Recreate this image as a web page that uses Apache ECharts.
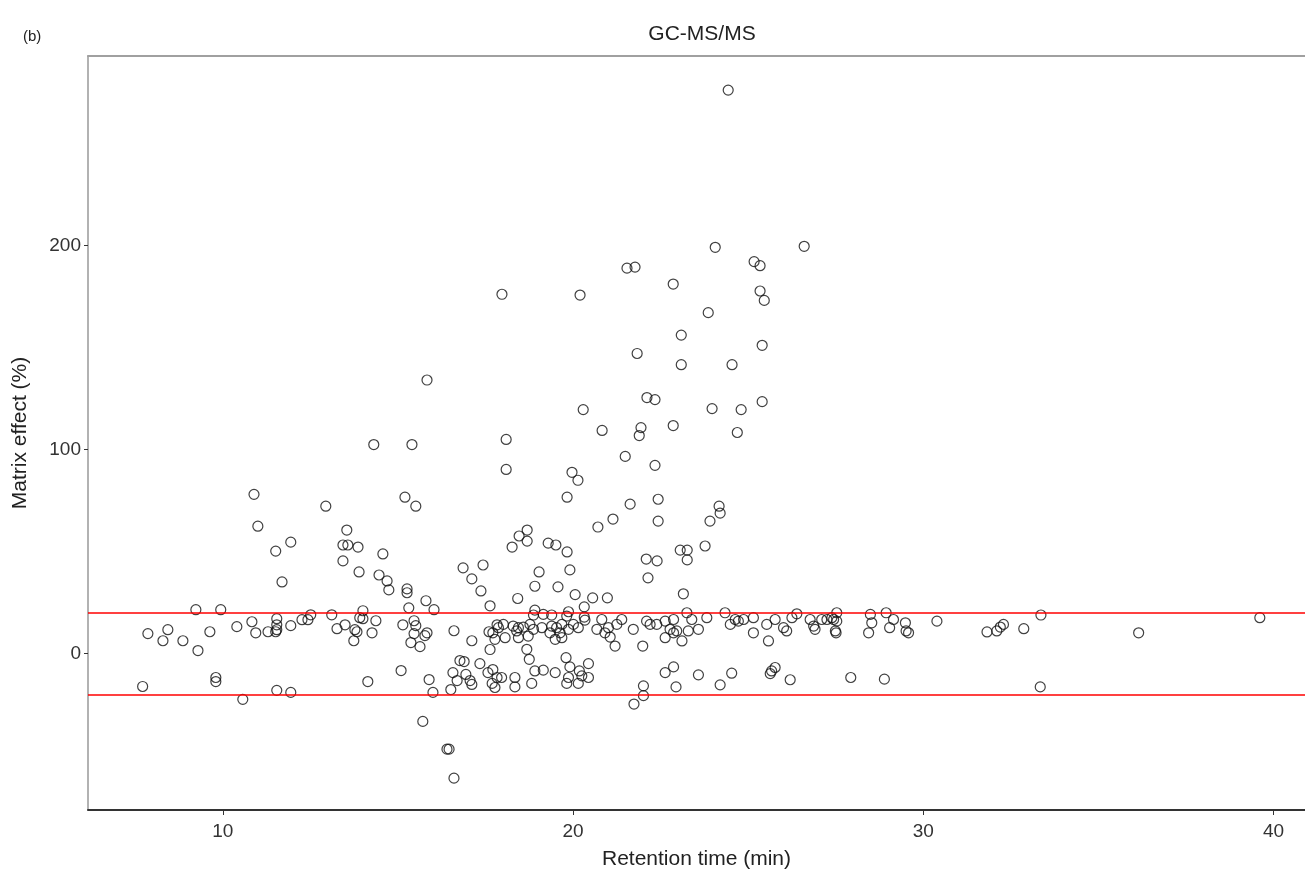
<!DOCTYPE html>
<html>
<head>
<meta charset="utf-8">
<script src="https://cdn.jsdelivr.net/npm/echarts@6/dist/echarts.min.js"></script>
<style>
  html, body { margin: 0; padding: 0; background: #fff; }
  #chart { width: 1305px; height: 875px; }
</style>
</head>
<body>
<div id="chart"></div>
<script>
// retention time (min) and matrix effect (%) for each compound
var retentionTime = [
  24.43, 24.06, 26.6, 21.54, 21.77, 25.17, 25.34, 22.86, 17.97, 20.2,
  25.34, 25.46, 23.86, 23.09, 25.4, 21.83, 23.09, 24.54, 22.11, 22.34,
  20.29, 23.97, 24.8, 25.4, 20.83, 21.94, 21.89, 22.86, 24.69, 18.09,
  21.49, 22.34, 18.09, 19.97, 20.14, 19.83, 21.63, 22.43, 22.43, 24.17,
  24.2, 23.91, 21.14, 20.71, 18.69, 18.46, 18.69, 18.26, 19.29, 19.51,
  19.83, 23.06, 23.26, 23.26, 23.77, 22.09, 22.4, 22.14, 19.03, 19.91,
  17.43, 18.91, 19.57,
  15.83, 14.31, 15.4, 10.89, 12.94, 15.2, 15.51, 11.0, 13.54, 11.94,
  11.51, 13.43, 13.57, 13.86, 14.57, 13.43, 13.89, 14.46, 14.69, 11.69,
  16.86, 17.11,
  14.74, 15.26, 15.26, 15.8, 16.03, 17.37, 17.63, 15.31, 14.0, 13.91,
  14.0, 13.49, 13.77, 13.83, 13.74, 14.37, 14.26, 15.14, 15.46, 15.51,
  15.46, 15.83, 15.77, 15.37, 15.63, 16.6, 17.11, 17.6, 17.71, 17.63,
  17.83, 16.77, 16.89, 16.57, 16.94, 17.06, 17.11, 16.69, 16.51, 17.34,
  17.57, 17.71, 17.83, 17.69, 17.77, 15.09, 15.89, 16.0, 14.14, 15.71,
  16.4, 16.46, 16.6,
  9.23, 9.94, 7.86, 8.43, 8.29, 8.86, 9.29, 9.63, 10.4, 10.83,
  10.94, 11.29, 11.54, 11.54, 11.54, 11.51, 11.94, 12.26, 12.43, 12.51,
  13.11, 13.26, 7.71, 9.8, 9.8, 10.57, 11.54, 11.94,
  18.42, 20.06, 20.56, 20.98, 20.32, 18.91, 18.87, 19.15, 19.39, 19.87,
  19.82, 20.32, 20.34, 18.01, 17.87, 18.29, 18.44, 18.58, 18.39, 18.77,
  18.87, 19.11, 19.39, 19.53, 19.68, 20.01, 20.15, 19.34, 19.63, 19.87,
  17.77, 18.06, 18.44, 18.72, 19.49, 19.68, 18.68, 18.75, 19.8, 19.91,
  18.91, 19.15, 19.49, 20.18, 20.44, 20.25, 20.44, 19.87, 19.82, 20.15,
  18.34, 18.34, 18.82, 17.96, 20.82, 20.68, 20.91, 21.01, 21.06, 21.2,
  21.25, 21.39, 21.72, 21.99, 22.1, 22.01, 22.01, 21.74,
  23.15, 23.25, 22.2, 22.39, 22.87, 23.39, 23.82, 24.34, 24.49, 24.63,
  24.72, 24.87, 25.15, 25.15, 25.53, 25.77, 26.01, 26.1, 25.58, 26.25,
  26.39, 26.77, 26.87, 26.91, 27.1, 27.25, 27.39, 27.53, 27.49, 22.63,
  22.77, 22.87, 22.63, 23.11, 22.96, 23.29, 23.58, 22.63, 22.87, 23.58,
  22.94, 24.2, 24.53, 25.67, 25.77, 25.63, 26.2,
  27.44, 27.53, 27.51, 28.49, 28.53, 28.44, 28.94, 29.15, 29.04, 29.49,
  29.51, 29.58, 30.39, 31.82, 32.1, 32.2, 32.29, 32.87, 33.36, 27.93,
  28.89, 33.34, 36.15, 39.61
];
var matrixEffect = [
  276, 199, 199.5, 188.8, 189.3, 192, 190, 181, 176, 175.6,
  177.6, 173, 167, 156, 151, 147, 141.5, 141.5, 125.4, 124.4,
  119.5, 120, 119.5, 123.4, 109.3, 110.7, 106.8, 111.7, 108.3, 104.9,
  96.6, 92.2, 90.2, 88.8, 84.9, 76.6, 73.2, 75.6, 64.9, 72.2,
  68.8, 64.9, 65.9, 62, 60.5, 57.6, 55.1, 52.2, 54.1, 53.2,
  49.8, 50.7, 50.7, 45.9, 52.7, 46.3, 45.4, 37.1, 40, 41,
  43.4, 33, 32.7,
  134, 102.4, 102.4, 78, 72.2, 76.6, 72.2, 62.4, 60.5, 54.6,
  50.2, 53.2, 53.2, 52.2, 48.8, 45.4, 40, 38.5, 35.6, 35.1,
  42, 36.6,
  31.2, 31.7, 29.8, 25.9, 21.5, 30.7, 23.4, 22.4, 21, 17.6,
  17.1, 14.1, 11.7, 10.7, 6.3, 16.1, 10.2, 14.1, 16.1, 13.7,
  9.8, 10.2, 8.8, 5.4, 3.4, 11.2, 6.3, 10.7, 10.2, 2,
  14.1, -3.4, -3.9, -9.3, -10.2, -13.2, -15.1, -13.2, -17.6, -4.9,
  -9.3, -7.8, -11.7, -14.6, -16.6, -8.3, -12.7, -19, -13.7, -33.2,
  -46.8, -46.8, -61,
  21.5, 21.5, 9.8, 11.7, 6.3, 6.3, 1.5, 10.7, 13.2, 15.6,
  10.2, 10.7, 17.1, 14.1, 11.7, 10.7, 13.7, 16.6, 16.6, 19,
  19, 12.2, -16.1, -11.7, -13.7, -22.4, -18, -19,
  27.0, 28.9, 27.3, 27.3, 22.9, 21.3, 18.9, 19.2, 18.9, 20.5,
  18.4, 17.9, 16.4, 14.3, 12.7, 13.5, 12.7, 13.0, 11.1, 14.3,
  11.9, 12.7, 13.5, 12.7, 14.3, 14.3, 12.7, 10.2, 10.2, 11.9,
  7.0, 7.8, 7.8, 8.6, 7.0, 7.8, 2.1, -2.8, -2.0, -6.5,
  -8.5, -8.1, -9.3, -8.5, -4.9, -10.9, -11.7, -11.7, -14.6, -14.6,
  -11.7, -16.3, -14.6, -11.7, 16.7, 11.9, 10.2, 12.7, 8.1, 3.7,
  14.3, 16.7, 11.9, 3.7, 15.9, -15.8, -20.6, -24.7,
  29.3, 20, 14.3, 14.3, 16.7, 16.7, 17.6, 20, 14.3, 16.7,
  15.9, 16.7, 17.6, 10.2, 14.3, 16.7, 12.7, 11.1, 6.2, 17.6,
  19.5, 16.7, 13.5, 11.9, 16.7, 16.7, 17.6, 20, 11.1, 15.9,
  11.9, 10.2, 7.8, 6.2, 11.1, 11.1, 11.9, -9.3, -6.5, -10.4,
  -16.3, -15.3, -9.6, -8.5, -6.8, -9.8, -12.8,
  16.7, 15.9, 10.2, 19.2, 15.1, 10.2, 20, 16.7, 12.7, 15.1,
  11.1, 10.2, 15.9, 10.6, 11.1, 13.0, 14.3, 12.2, 18.9, -11.7,
  -12.5, -16.3, 10.2, 17.6
];

var xTicks = [10, 20, 30, 40];
var yTicks = [0, 100, 200];
var limitLines = [20, -20];

var points = retentionTime.map(function (t, i) {
    return [t, matrixEffect[i]];
});

var font = 'Liberation Sans, Arial, sans-serif';
var myChart = echarts.init(document.getElementById('chart'));

var option = {
    animation: false,
    title: [{
        text: 'GC-MS/MS',
        left: 697,
        top: 19,
        textAlign: 'center',
        textStyle: { fontFamily: font, fontSize: 21, fontWeight: 'normal', color: '#222' }
    }, {
        text: '(b)',
        left: 18,
        top: 24,
        textStyle: { fontFamily: font, fontSize: 15, fontWeight: 'normal', color: '#222' }
    }],
    grid: { left: 88, right: 0, top: 56, bottom: 61 },
    xAxis: [{
        type: 'value',
        min: 6.15,
        max: 40.9,
        name: 'Retention time (min)',
        nameLocation: 'middle',
        nameGap: 39,
        nameTextStyle: { fontFamily: font, fontSize: 21, color: '#222' },
        axisLine: { onZero: false, lineStyle: { color: '#333', width: 2 } },
        axisTick: { customValues: xTicks, length: 5, lineStyle: { color: '#333' } },
        axisLabel: { customValues: xTicks, fontFamily: font, fontSize: 19, color: '#333', margin: 12 },
        splitLine: { show: false }
    }, {
        type: 'value',
        position: 'top',
        min: 6.15,
        max: 40.9,
        axisLine: { onZero: false, lineStyle: { color: '#a0a0a0', width: 2 } },
        axisTick: { show: false },
        axisLabel: { show: false },
        splitLine: { show: false }
    }],
    yAxis: {
        type: 'value',
        min: -76.6,
        max: 292.7,
        name: 'Matrix effect (%)',
        nameLocation: 'middle',
        nameGap: 57,
        nameTextStyle: { fontFamily: font, fontSize: 21, color: '#222' },
        axisLine: { show: true, onZero: false, lineStyle: { color: '#999', width: 1.5 } },
        axisTick: { show: true, customValues: yTicks, length: 4, lineStyle: { color: '#333' } },
        axisLabel: { customValues: yTicks, fontFamily: font, fontSize: 19, color: '#333', margin: 7 },
        splitLine: { show: false }
    },
    series: [{
        type: 'scatter',
        data: points,
        symbol: 'circle',
        symbolSize: 10,
        itemStyle: { color: 'rgba(0,0,0,0)', borderColor: '#111', borderWidth: 1.2 },
        markLine: {
            silent: true,
            symbol: 'none',
            label: { show: false },
            lineStyle: { color: '#ff0000', width: 1.5, type: 'solid' },
            data: limitLines.map(function (v) { return { yAxis: v }; })
        }
    }]
};

myChart.setOption(option);
</script>
</body>
</html>
